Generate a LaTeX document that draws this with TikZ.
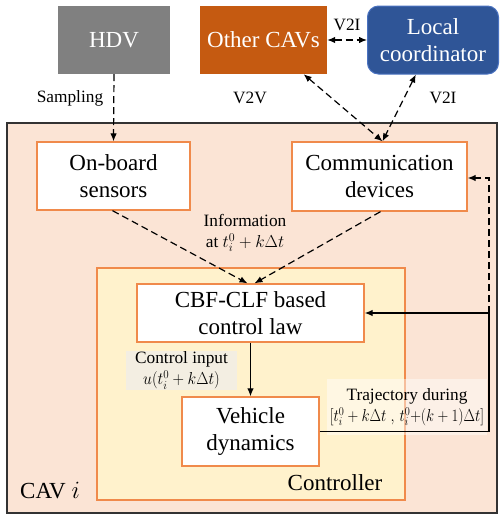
\documentclass[tikz,border=0pt]{standalone}
\usepackage{fontspec}
\setmainfont{Liberation Serif}
\usetikzlibrary{arrows.meta}
\definecolor{hdvgray}{HTML}{808080}
\definecolor{cavorange}{HTML}{C55A11}
\definecolor{coordblue}{HTML}{2F5597}
\definecolor{coordborder}{HTML}{4A72C0}
\definecolor{outerfill}{HTML}{FBE4D5}
\definecolor{ctrlfill}{HTML}{FFF2CC}
\definecolor{boxborder}{HTML}{F08A4B}
\definecolor{labelfill}{HTML}{F3EEE2}
\begin{document}
\begin{tikzpicture}[x=1pt,y=-1pt,
  big/.style={font=\rmfamily\fontsize{23}{27}\selectfont},
  small/.style={font=\rmfamily\fontsize{17.3}{21}\selectfont},
  topbox/.style={big, text=white, align=center, inner sep=0pt},
  wbox/.style={big, draw=boxborder, line width=1.3pt, fill=white, align=center, inner sep=0pt},
  lbl/.style={small, align=center, inner sep=0pt},
  conn/.style={line width=1.2pt, -{Latex[length=8pt,width=6.5pt]}},
  dconn/.style={conn, dash pattern=on 7pt off 4pt},
  ddconn/.style={line width=1.2pt, {Latex[length=8pt,width=6.5pt]}-{Latex[length=8pt,width=6.5pt]}, dash pattern=on 7pt off 4pt}
]
\useasboundingbox (0,0) rectangle (500,515);
% outer CAV box
\draw[fill=outerfill, draw=black!80, line width=1.5pt] (7,123) rectangle (497,513);
% controller box
\draw[fill=ctrlfill, draw=boxborder, line width=1.3pt] (97,268) rectangle (405,500);
% top boxes
\node[topbox, fill=hdvgray, minimum width=112pt, minimum height=68pt] (hdv) at (114,40) {HDV};
\node[topbox, fill=cavorange, minimum width=127pt, minimum height=68pt] (cavs) at (263.5,40) {Other CAVs};
\node[topbox, fill=coordblue, draw=coordborder, line width=1pt, rounded corners=11pt, minimum width=131pt, minimum height=68pt] (coord) at (433,40) {Local\\coordinator};
% inner boxes
\node[wbox, minimum width=153pt, minimum height=68pt] (obs) at (113.5,176) {On-board\\sensors};
\node[wbox, minimum width=175pt, minimum height=69pt] (comm) at (379.5,176.5) {Communication\\devices};
\node[wbox, minimum width=227pt, minimum height=58pt] (cbf) at (250.5,313) {CBF-CLF based\\control law};
\node[wbox, minimum width=137pt, minimum height=69pt] (vd) at (250.5,431.5) {Vehicle\\dynamics};
% labels
\node[lbl] (samp) at (70,98) {Sampling};
\node[lbl] (v2v) at (250,98) {V2V};
\node[lbl] (v2ia) at (443,98) {V2I};
\node[lbl] (v2ib) at (347,25) {V2I};
\node[lbl] (info) at (245,233) {Information\\at $t_i^0+k\Delta t$};
\node[lbl, fill=labelfill, minimum width=111pt, minimum height=39pt] (cin) at (181.5,370.5) {Control input\\\scalebox{0.92}[1]{$u(t_i^0+k\Delta t)$}};
\node[big, inner sep=0pt] (ctrl) at (335,483) {Controller};
\node[big, inner sep=0pt] (cavi) at (50,491) {CAV $i$};
% coordinates for feedback path
\coordinate (br) at (489,431.5);
\coordinate (mr) at (489,313);
\coordinate (tr) at (489,178);
% connectors
\draw[dconn] (hdv.south) -- (obs.north);
\draw[ddconn] (cavs) -- ([xshift=3pt]comm.north);
\draw[ddconn] (coord) -- ([xshift=3pt]comm.north);
\draw[ddconn] (cavs.east) -- (coord.west);
\draw[dconn] ([xshift=-1pt]obs.south) -- ([xshift=-3pt]cbf.north);
\draw[dconn] ([xshift=1pt]comm.south) -- ([xshift=4pt]cbf.north);
\draw[conn] (cbf.south) -- (vd.north);
% trajectory label (semi-transparent)
\node[lbl, fill=white, fill opacity=0.45, text opacity=1, minimum width=160pt, minimum height=56pt] (traj) at (407,407) {Trajectory during\\\scalebox{0.86}[1]{$[t_i^0+k\Delta t\;,\,t_i^0{+}(k+1)\Delta t]$}};
\draw[line width=1.2pt] (vd.east) -- (br) -- (mr);
\draw[conn] (mr) -- (cbf.east);
\draw[dconn] (mr) -- (tr) -- (comm.east |- tr);
\end{tikzpicture}
\end{document}
